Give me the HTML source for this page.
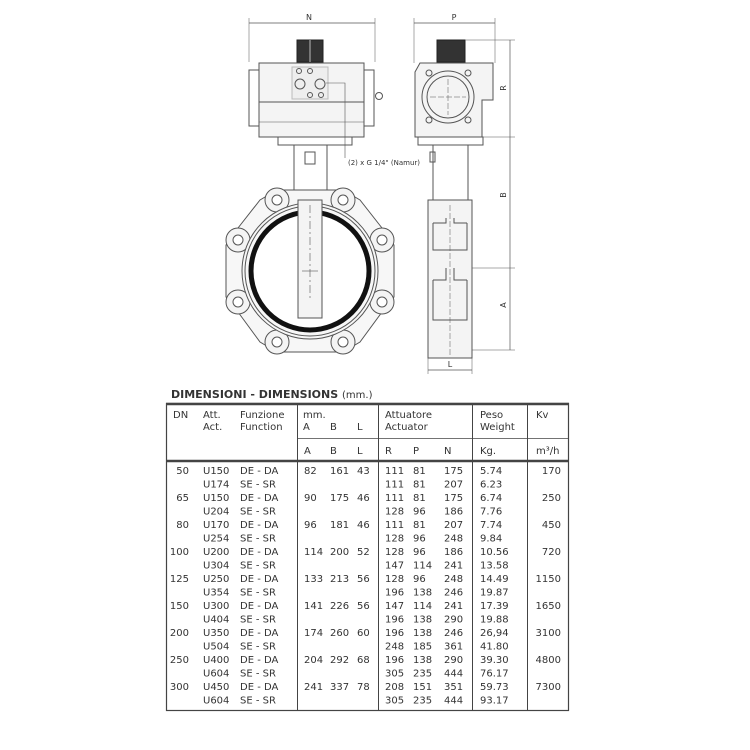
<!DOCTYPE html>
<html><head><meta charset="utf-8"><style>
html,body{margin:0;padding:0;background:#fff}
svg{display:block}
text{font-family:"DejaVu Sans","Liberation Sans",sans-serif;fill:#333}
</style></head><body>
<svg width="750" height="750" viewBox="0 0 750 750" xmlns="http://www.w3.org/2000/svg">
<g fill="none" stroke="#555" stroke-width="1">
<!-- FRONT VIEW -->
<line x1="249" y1="23" x2="375" y2="23" stroke-width="0.7"/>
<line x1="249" y1="18" x2="249" y2="62" stroke-width="0.5"/>
<line x1="375" y1="18" x2="375" y2="62" stroke-width="0.5"/>
<rect x="297" y="40" width="26" height="22" fill="#333" stroke="#222"/>
<line x1="310" y1="40" x2="310" y2="62" stroke="#bbb"/>
<rect x="259" y="63" width="105" height="74" fill="#f4f4f4"/>
<rect x="249" y="70" width="10" height="56"/>
<rect x="364" y="70" width="10" height="56"/>
<line x1="259" y1="102" x2="364" y2="102"/>
<line x1="259" y1="122" x2="364" y2="122" stroke-width="0.6"/>
<rect x="292" y="67" width="36" height="32" fill="#eee" stroke="#bbb"/>
<circle cx="299" cy="71" r="2.5"/><circle cx="310" cy="71" r="2.5"/>
<circle cx="310" cy="95" r="2.5"/><circle cx="321" cy="95" r="2.5"/>
<circle cx="300" cy="84" r="5"/><circle cx="320" cy="84" r="5"/>
<circle cx="379" cy="96" r="3.5"/>
<polyline points="326,83 345,83 345,158" stroke-width="0.6"/>
<rect x="278" y="137" width="74" height="8"/>
<path d="M294 145 L294 190 Q296 200 286 205 M327 145 L327 190 Q325 200 335 205"/>
<rect x="305" y="152" width="10" height="12"/>
<g fill="#f4f4f4">
<path d="M277 190 L343 190 L360 200 L382 228 L394 245 L394 297 L382 312 L360 342 L343 352 L277 352 L260 342 L238 312 L226 297 L226 245 L238 228 L260 200 Z" fill="#f7f7f7"/>
<circle cx="277" cy="200" r="12"/><circle cx="343" cy="200" r="12"/>
<circle cx="238" cy="240" r="12"/><circle cx="382" cy="240" r="12"/>
<circle cx="238" cy="302" r="12"/><circle cx="382" cy="302" r="12"/>
<circle cx="277" cy="342" r="12"/><circle cx="343" cy="342" r="12"/>
</g>
<g fill="#fff">
<circle cx="277" cy="200" r="5"/><circle cx="343" cy="200" r="5"/>
<circle cx="238" cy="240" r="5"/><circle cx="382" cy="240" r="5"/>
<circle cx="238" cy="302" r="5"/><circle cx="382" cy="302" r="5"/>
<circle cx="277" cy="342" r="5"/><circle cx="343" cy="342" r="5"/>
</g>
<circle cx="310" cy="271" r="68" fill="#f7f7f7"/>
<circle cx="310" cy="271" r="65"/>
<circle cx="310" cy="271" r="59" stroke="#111" stroke-width="5" fill="#fff"/>
<rect x="298" y="200" width="24" height="118" fill="#f4f4f4"/>
<line x1="310" y1="205" x2="310" y2="300" stroke-dasharray="8,3,2,3" stroke-width="0.6"/>
<line x1="302" y1="271" x2="318" y2="271" stroke-width="0.6"/>
<!-- SIDE VIEW -->
<line x1="414" y1="23" x2="495" y2="23" stroke-width="0.7"/>
<line x1="414" y1="18" x2="414" y2="63" stroke-width="0.5"/>
<line x1="495" y1="18" x2="495" y2="63" stroke-width="0.5"/>
<rect x="437" y="40" width="28" height="22" fill="#333" stroke="#222"/>
<path d="M415 72 L420 63 L493 63 L493 100 L482 100 L482 137 L415 137 Z" fill="#f4f4f4"/>
<circle cx="448" cy="97" r="26"/>
<circle cx="448" cy="97" r="21"/>
<circle cx="429" cy="73" r="3"/><circle cx="468" cy="73" r="3"/>
<circle cx="429" cy="120" r="3"/><circle cx="468" cy="120" r="3"/>
<line x1="430" y1="97" x2="466" y2="97" stroke-dasharray="6,2" stroke-width="0.5"/>
<line x1="448" y1="79" x2="448" y2="115" stroke-dasharray="6,2" stroke-width="0.5"/>
<rect x="418" y="137" width="65" height="8"/>
<rect x="433" y="145" width="35" height="55"/>
<rect x="430" y="152" width="5" height="10"/>
<rect x="428" y="200" width="44" height="158" fill="#f4f4f4"/>
<path d="M433 223 L446 223 L446 218 M467 223 L454 223 L454 218 M433 223 L433 250 L467 250 L467 223"/>
<path d="M433 280 L446 280 L446 268 M467 280 L454 280 L454 268 M433 280 L433 320 L467 320 L467 280"/>
<line x1="450" y1="205" x2="450" y2="355" stroke-dasharray="6,2" stroke-width="0.5"/>
<line x1="510" y1="40" x2="510" y2="350" stroke-width="0.7"/>
<line x1="465" y1="40" x2="515" y2="40" stroke-width="0.5"/>
<line x1="483" y1="137" x2="515" y2="137" stroke-width="0.5"/>
<line x1="472" y1="268" x2="515" y2="268" stroke-width="0.5"/>
<line x1="472" y1="350" x2="515" y2="350" stroke-width="0.5"/>
<line x1="428" y1="370" x2="472" y2="370" stroke-width="0.7"/>
<line x1="428" y1="358" x2="428" y2="374" stroke-width="0.5"/>
<line x1="472" y1="358" x2="472" y2="374" stroke-width="0.5"/>
</g>
<g font-size="8" style="font-family:'Liberation Sans',sans-serif">
<text x="309" y="20" text-anchor="middle">N</text>
<text x="454" y="20" text-anchor="middle">P</text>
<text x="450" y="367" text-anchor="middle">L</text>
<text x="348" y="165" font-size="7">(2) x G 1/4" (Namur)</text>
<text transform="translate(506,88) rotate(-90)" text-anchor="middle">R</text>
<text transform="translate(506,195) rotate(-90)" text-anchor="middle">B</text>
<text transform="translate(506,305) rotate(-90)" text-anchor="middle">A</text>
</g>
<!-- TABLE -->
<text x="171" y="398" font-size="11" font-weight="bold" fill="#111">DIMENSIONI - DIMENSIONS <tspan font-weight="normal" font-size="10">(mm.)</tspan></text>
<g stroke="#444" fill="none">
<rect x="166.5" y="403.5" width="402" height="307" stroke-width="1.2"/>
<line x1="166" y1="404" x2="569" y2="404" stroke-width="2.5"/>
<line x1="166" y1="461" x2="569" y2="461" stroke-width="2.5"/>
<line x1="297" y1="438.5" x2="569" y2="438.5" stroke-width="0.8"/>
<line x1="297.5" y1="404" x2="297.5" y2="710"/>
<line x1="378.5" y1="404" x2="378.5" y2="710"/>
<line x1="472.5" y1="404" x2="472.5" y2="710"/>
<line x1="527.5" y1="404" x2="527.5" y2="710"/>
</g>
<g font-size="10">
<text x="173" y="418">DN</text>
<text x="203" y="418">Att.</text><text x="203" y="430">Act.</text>
<text x="240" y="418">Funzione</text><text x="240" y="430">Function</text>
<text x="303" y="418">mm.</text><text x="303" y="430">A</text><text x="330" y="430">B</text><text x="357" y="430">L</text>
<text x="385" y="418">Attuatore</text><text x="385" y="430">Actuator</text>
<text x="480" y="418">Peso</text><text x="480" y="430">Weight</text>
<text x="536" y="418">Kv</text>
<text x="304" y="454">A</text><text x="330" y="454">B</text><text x="357" y="454">L</text>
<text x="385" y="454">R</text><text x="413" y="454">P</text><text x="444" y="454">N</text>
<text x="480" y="454">Kg.</text><text x="536" y="454">m³/h</text>
</g>
<g font-size="10">
<g><text x="189" y="474" text-anchor="end">50</text><text x="203" y="474">U150</text><text x="240" y="474">DE - DA</text><text x="304" y="474">82</text><text x="330" y="474">161</text><text x="357" y="474">43</text><text x="385" y="474">111</text><text x="413" y="474">81</text><text x="444" y="474">175</text><text x="480" y="474">5.74</text><text x="561" y="474" text-anchor="end">170</text>
<text x="203" y="487.5">U174</text><text x="240" y="487.5">SE - SR</text><text x="385" y="487.5">111</text><text x="413" y="487.5">81</text><text x="444" y="487.5">207</text><text x="480" y="487.5">6.23</text></g>
<g transform="translate(0,27)"><text x="189" y="474" text-anchor="end">65</text><text x="203" y="474">U150</text><text x="240" y="474">DE - DA</text><text x="304" y="474">90</text><text x="330" y="474">175</text><text x="357" y="474">46</text><text x="385" y="474">111</text><text x="413" y="474">81</text><text x="444" y="474">175</text><text x="480" y="474">6.74</text><text x="561" y="474" text-anchor="end">250</text>
<text x="203" y="487.5">U204</text><text x="240" y="487.5">SE - SR</text><text x="385" y="487.5">128</text><text x="413" y="487.5">96</text><text x="444" y="487.5">186</text><text x="480" y="487.5">7.76</text></g>
<g transform="translate(0,54)"><text x="189" y="474" text-anchor="end">80</text><text x="203" y="474">U170</text><text x="240" y="474">DE - DA</text><text x="304" y="474">96</text><text x="330" y="474">181</text><text x="357" y="474">46</text><text x="385" y="474">111</text><text x="413" y="474">81</text><text x="444" y="474">207</text><text x="480" y="474">7.74</text><text x="561" y="474" text-anchor="end">450</text>
<text x="203" y="487.5">U254</text><text x="240" y="487.5">SE - SR</text><text x="385" y="487.5">128</text><text x="413" y="487.5">96</text><text x="444" y="487.5">248</text><text x="480" y="487.5">9.84</text></g>
<g transform="translate(0,81)"><text x="189" y="474" text-anchor="end">100</text><text x="203" y="474">U200</text><text x="240" y="474">DE - DA</text><text x="304" y="474">114</text><text x="330" y="474">200</text><text x="357" y="474">52</text><text x="385" y="474">128</text><text x="413" y="474">96</text><text x="444" y="474">186</text><text x="480" y="474">10.56</text><text x="561" y="474" text-anchor="end">720</text>
<text x="203" y="487.5">U304</text><text x="240" y="487.5">SE - SR</text><text x="385" y="487.5">147</text><text x="413" y="487.5">114</text><text x="444" y="487.5">241</text><text x="480" y="487.5">13.58</text></g>
<g transform="translate(0,108)"><text x="189" y="474" text-anchor="end">125</text><text x="203" y="474">U250</text><text x="240" y="474">DE - DA</text><text x="304" y="474">133</text><text x="330" y="474">213</text><text x="357" y="474">56</text><text x="385" y="474">128</text><text x="413" y="474">96</text><text x="444" y="474">248</text><text x="480" y="474">14.49</text><text x="561" y="474" text-anchor="end">1150</text>
<text x="203" y="487.5">U354</text><text x="240" y="487.5">SE - SR</text><text x="385" y="487.5">196</text><text x="413" y="487.5">138</text><text x="444" y="487.5">246</text><text x="480" y="487.5">19.87</text></g>
<g transform="translate(0,135)"><text x="189" y="474" text-anchor="end">150</text><text x="203" y="474">U300</text><text x="240" y="474">DE - DA</text><text x="304" y="474">141</text><text x="330" y="474">226</text><text x="357" y="474">56</text><text x="385" y="474">147</text><text x="413" y="474">114</text><text x="444" y="474">241</text><text x="480" y="474">17.39</text><text x="561" y="474" text-anchor="end">1650</text>
<text x="203" y="487.5">U404</text><text x="240" y="487.5">SE - SR</text><text x="385" y="487.5">196</text><text x="413" y="487.5">138</text><text x="444" y="487.5">290</text><text x="480" y="487.5">19.88</text></g>
<g transform="translate(0,162)"><text x="189" y="474" text-anchor="end">200</text><text x="203" y="474">U350</text><text x="240" y="474">DE - DA</text><text x="304" y="474">174</text><text x="330" y="474">260</text><text x="357" y="474">60</text><text x="385" y="474">196</text><text x="413" y="474">138</text><text x="444" y="474">246</text><text x="480" y="474">26,94</text><text x="561" y="474" text-anchor="end">3100</text>
<text x="203" y="487.5">U504</text><text x="240" y="487.5">SE - SR</text><text x="385" y="487.5">248</text><text x="413" y="487.5">185</text><text x="444" y="487.5">361</text><text x="480" y="487.5">41.80</text></g>
<g transform="translate(0,189)"><text x="189" y="474" text-anchor="end">250</text><text x="203" y="474">U400</text><text x="240" y="474">DE - DA</text><text x="304" y="474">204</text><text x="330" y="474">292</text><text x="357" y="474">68</text><text x="385" y="474">196</text><text x="413" y="474">138</text><text x="444" y="474">290</text><text x="480" y="474">39.30</text><text x="561" y="474" text-anchor="end">4800</text>
<text x="203" y="487.5">U604</text><text x="240" y="487.5">SE - SR</text><text x="385" y="487.5">305</text><text x="413" y="487.5">235</text><text x="444" y="487.5">444</text><text x="480" y="487.5">76.17</text></g>
<g transform="translate(0,216)"><text x="189" y="474" text-anchor="end">300</text><text x="203" y="474">U450</text><text x="240" y="474">DE - DA</text><text x="304" y="474">241</text><text x="330" y="474">337</text><text x="357" y="474">78</text><text x="385" y="474">208</text><text x="413" y="474">151</text><text x="444" y="474">351</text><text x="480" y="474">59.73</text><text x="561" y="474" text-anchor="end">7300</text>
<text x="203" y="487.5">U604</text><text x="240" y="487.5">SE - SR</text><text x="385" y="487.5">305</text><text x="413" y="487.5">235</text><text x="444" y="487.5">444</text><text x="480" y="487.5">93.17</text></g>
</g>
</svg>
</body></html>
